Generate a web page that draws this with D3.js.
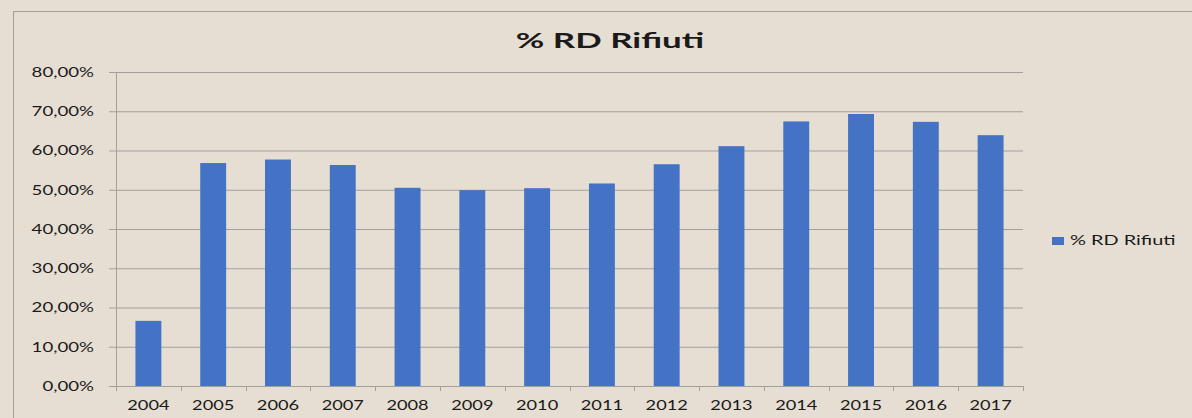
<!DOCTYPE html>
<html lang="it">
<head>
  <meta charset="UTF-8">
  <title>% RD Rifiuti</title>
  <script src="https://d3js.org/d3.v7.min.js"></script>
  <style>
    body { margin: 0; background: #e6ded2; }
    svg { display: block; }
    text { font-family: Lato, "Open Sans", sans-serif; fill: #1a1a1a; }
  </style>
</head>
<body>
  <div id="chart"></div>
  <script>
    // data
    const years = ["2004", "2005", "2006", "2007", "2008", "2009", "2010",
                   "2011", "2012", "2013", "2014", "2015", "2016", "2017"];
    const rdValues = [16.6, 56.8, 57.7, 56.3, 50.5, 49.9, 50.4,
                      51.6, 56.5, 61.1, 67.4, 69.3, 67.3, 63.9];
    const yTicks = [0, 10, 20, 30, 40, 50, 60, 70, 80];
    const seriesName = "% RD Rifiuti";

    const W = 1192, H = 418;
    const plot = { left: 116, right: 1023, top: 72, bottom: 386 };
    const gridColor = "#a3a09b";

    const svg = d3.select("#chart").append("svg")
      .attr("width", W)
      .attr("height", H);

    svg.append("rect")
      .attr("width", W).attr("height", H)
      .attr("fill", "#e6ded2");

    // outer chart border (runs off the right/bottom edge)
    svg.append("rect")
      .attr("x", 13.5).attr("y", 11.5)
      .attr("width", W).attr("height", H)
      .attr("fill", "none")
      .attr("stroke", gridColor);

    const x = d3.scaleBand()
      .domain(years)
      .range([plot.left, plot.right])
      .paddingInner(0.6)
      .paddingOuter(0.3);

    const y = d3.scaleLinear()
      .domain([0, 80])
      .range([plot.bottom, plot.top]);

    const fmt = v => d3.format(".2f")(v).replace(".", ",") + "%";

    // text in the picture is stretched sideways
    function widen(sel, k) {
      sel.each(function() {
        const len = this.getComputedTextLength();
        d3.select(this)
          .attr("textLength", len * k)
          .attr("lengthAdjust", "spacingAndGlyphs");
      });
    }

    // y axis with gridlines
    const yAxis = svg.append("g")
      .attr("transform", `translate(${plot.left},0)`)
      .call(d3.axisLeft(y)
        .tickValues(yTicks)
        .tickFormat(fmt)
        .tickSize(-(plot.right - plot.left))
        .tickSizeOuter(0));
    yAxis.select(".domain").remove();
    yAxis.selectAll(".tick line")
      .attr("x1", -7)
      .attr("stroke", gridColor);
    yAxis.selectAll(".tick text")
      .attr("x", -22)
      .style("font-size", "13.5px")
      .call(widen, 1.38);

    // vertical axis line
    svg.append("line")
      .attr("x1", plot.left + 0.5).attr("x2", plot.left + 0.5)
      .attr("y1", plot.top).attr("y2", plot.bottom)
      .attr("stroke", gridColor);

    // bars
    svg.selectAll(".bar")
      .data(years)
      .enter().append("rect")
      .attr("class", "bar")
      .attr("x", (d) => x(d))
      .attr("width", x.bandwidth())
      .attr("y", (d, i) => y(rdValues[i]))
      .attr("height", (d, i) => y(0) - y(rdValues[i]))
      .attr("fill", "#4472c4");

    // x axis
    const xAxis = svg.append("g")
      .attr("transform", `translate(0,${plot.bottom})`)
      .call(d3.axisBottom(x).tickSize(0).tickSizeOuter(0));
    xAxis.select(".domain").attr("stroke", gridColor);
    xAxis.selectAll(".tick text")
      .attr("y", 14)
      .style("font-size", "14px")
      .call(widen, 1.3);

    // tick marks on band boundaries
    const bounds = years.map(d => x(d) - x.step() * x.paddingInner() / 2)
      .concat([plot.right]);
    xAxis.selectAll(".bound")
      .data(bounds)
      .enter().append("line")
      .attr("class", "bound")
      .attr("x1", d => Math.round(d) + 0.5)
      .attr("x2", d => Math.round(d) + 0.5)
      .attr("y1", 0).attr("y2", 5)
      .attr("stroke", gridColor);

    // title
    svg.append("text")
      .attr("x", 610)
      .attr("y", 48)
      .attr("text-anchor", "middle")
      .style("font-size", "21.5px")
      .style("font-weight", "bold")
      .text(seriesName)
      .call(widen, 1.62);

    // legend
    const legend = svg.append("g")
      .attr("transform", "translate(1052,237)");
    legend.append("rect")
      .attr("width", 12)
      .attr("height", 8)
      .attr("fill", "#4472c4");
    legend.append("text")
      .attr("x", 18)
      .attr("y", 8)
      .style("font-size", "14px")
      .text(seriesName)
      .call(widen, 1.42);
  </script>
</body>
</html>
